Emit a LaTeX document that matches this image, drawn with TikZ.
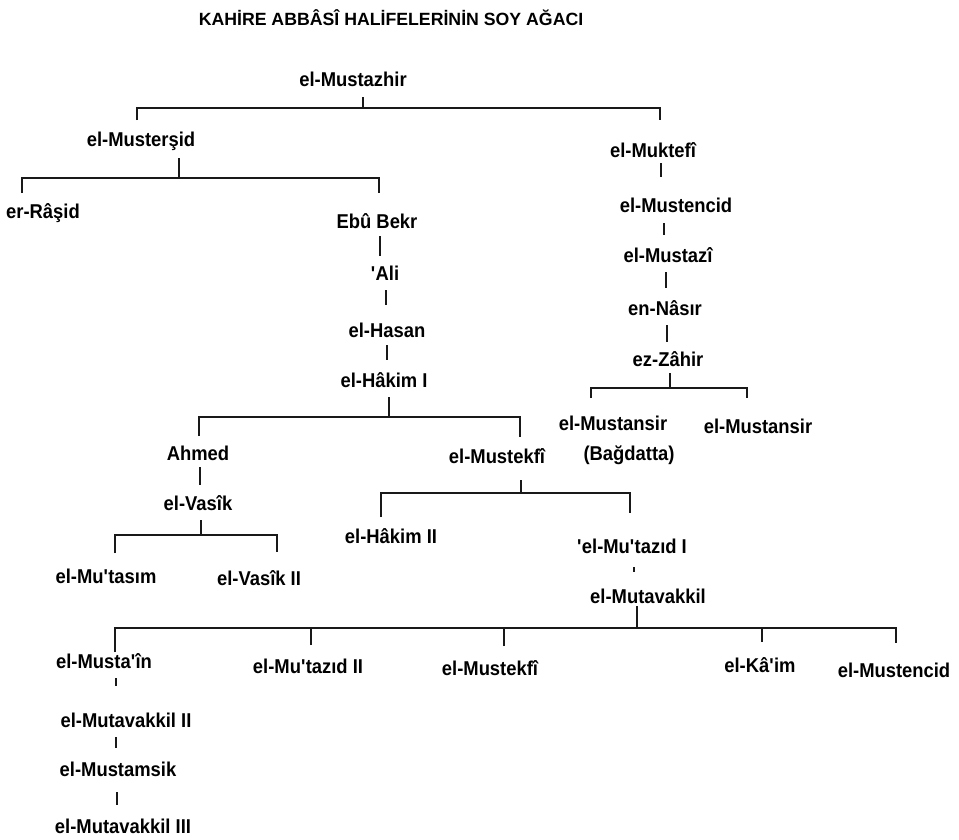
\documentclass[tikz,border=0pt]{standalone}
\usepackage{fontspec}
\setmainfont{Liberation Sans}
\newfontfamily\treefont[FakeStretch=0.92]{Liberation Sans}
\newcommand{\aps}{\textquotesingle}

\begin{document}
\begin{tikzpicture}[x=1pt,y=-1pt,
  caliph/.style={anchor=base,inner sep=2pt,text height=13.5pt,text depth=4pt,font=\treefont\fontsize{20}{24}\selectfont\bfseries},
  tie/.style={line width=1.1pt,black!90},
  link/.style={tie,shorten <=4pt,shorten >=11.5pt}]

\useasboundingbox (0,0) rectangle (959,839);

\node[anchor=base,font=\fontsize{17.7}{20}\selectfont\bfseries] (title) at (391,25) {KAHİRE ABBÂSÎ HALİFELERİNİN SOY AĞACI};

% left branch
\node[caliph] (mustazhir)   at (353,86)  {el-Mustazhir};
\node[caliph] (musterside)  at (141,146) {el-Musterşid};
\node[caliph] (rasid)       at (43,218)  {er-Râşid};
\node[caliph] (ebubekr)     at (377,228) {Ebû Bekr};
\node[caliph] (ali)         at (385,280) {\aps Ali};
\node[caliph] (hasan)       at (387,337) {el-Hasan};
\node[caliph] (hakimA)      at (384,387) {el-Hâkim I};
\node[caliph] (ahmed)       at (198,460) {Ahmed};
\node[caliph] (vasikA)      at (198,510) {el-Vasîk};
\node[caliph] (mutasim)     at (106,583) {el-Mu\aps tasım};
\node[caliph] (vasikB)      at (259,585) {el-Vasîk II};
\node[caliph] (mustekfiA)   at (497,463) {el-Mustekfî};
\node[caliph] (hakimB)      at (391,543) {el-Hâkim II};
\node[caliph] (mutazidA)    at (632,553) {\aps el-Mu\aps tazıd I};
\node[caliph] (mutavakkilA) at (648,603) {el-Mutavakkil};
\node[caliph] (mustain)     at (104,668) {el-Musta\aps în};
\node[caliph] (mutazidB)    at (308,673) {el-Mu\aps tazıd II};
\node[caliph] (mustekfiB)   at (490,675) {el-Mustekfî};
\node[caliph] (kaim)        at (760,672) {el-Kâ\aps im};
\node[caliph] (mustencidB)  at (894,677) {el-Mustencid};
\node[caliph] (mutavakkilB) at (126,727) {el-Mutavakkil II};
\node[caliph] (mustamsik)   at (118,776) {el-Mustamsik};
\node[caliph] (mutavakkilC) at (123,833) {el-Mutavakkil III};

% right branch
\node[caliph] (muktefi)     at (653,157) {el-Muktefî};
\node[caliph] (mustencidA)  at (676,212) {el-Mustencid};
\node[caliph] (mustazi)     at (668,262) {el-Mustazî};
\node[caliph] (nasir)       at (665,315) {en-Nâsır};
\node[caliph] (zahir)       at (668,366) {ez-Zâhir};
\node[caliph] (mustansirA)  at (613,430) {el-Mustansir};
\node[caliph] (bagdatta)    at (629,460) {(Bağdatta)};
\node[caliph] (mustansirB)  at (758,433) {el-Mustansir};

% brackets
\coordinate (j1) at (363,108); \coordinate (d1a) at (137,120); \coordinate (d1b) at (660,120);
\draw[tie,shorten <=5pt] (mustazhir.south -| j1) -- (j1);
\draw[tie] (d1a) |- (j1) -| (d1b);

\coordinate (j2) at (179,178); \coordinate (d2a) at (22,193); \coordinate (d2b) at (379,193);
\draw[tie,shorten <=6pt] (musterside.south -| j2) -- (j2);
\draw[tie] (d2a) |- (j2) -| (d2b);

\coordinate (j3) at (389,417); \coordinate (d3a) at (199,436); \coordinate (d3b) at (520,437);
\draw[tie,shorten <=4pt] (hakimA.south -| j3) -- (j3);
\draw[tie] (d3a) |- (j3) -| (d3b);

\coordinate (j4) at (201,535); \coordinate (d4a) at (115,553); \coordinate (d4b) at (277,552);
\draw[tie,shorten <=4pt] (vasikA.south -| j4) -- (j4);
\draw[tie] (d4a) |- (j4) -| (d4b);

\coordinate (j5) at (521,493); \coordinate (d5a) at (381,517); \coordinate (d5b) at (630,513);
\draw[tie,shorten <=11pt] (mustekfiA.south -| j5) -- (j5);
\draw[tie] (d5a) |- (j5) -| (d5b);

\coordinate (j6) at (637,628); \coordinate (d6a) at (115,652); \coordinate (d6b) at (311,645);
\coordinate (d6c) at (504,646); \coordinate (d6d) at (762,642); \coordinate (d6e) at (896,643);
\draw[tie,shorten <=-3pt] (mutavakkilA.south -| j6) -- (j6);
\draw[tie] (d6a) |- (j6) -| (d6e);
\draw[tie] (d6b) -- (d6b |- j6);
\draw[tie] (d6c) -- (d6c |- j6);
\draw[tie] (d6d) -- (d6d |- j6);

\coordinate (j7) at (670,388); \coordinate (d7a) at (591,398); \coordinate (d7b) at (747,398);
\draw[tie,shorten <=1pt] (zahir.south -| j7) -- (j7);
\draw[tie] (d7a) |- (j7) -| (d7b);

% single lines
\draw[link,shorten <=2pt,shorten >=8.5pt] ([xshift=3]ebubekr.south) -- ([xshift=3]ebubekr.south |- ali.north);
\draw[link,shorten >=16.5pt] ([xshift=1]ali.south) -- ([xshift=1]ali.south |- hasan.north);
\draw[link,shorten <=2pt] (hasan.south) -- (hasan.south |- hakimA.north);
\draw[link,shorten <=0pt,shorten >=19.5pt] ([xshift=8]muktefi.south) -- ([xshift=8]muktefi.south |- mustencidA.north);
\draw[link,shorten <=5pt] ([xshift=-12]mustencidA.south) -- ([xshift=-12]mustencidA.south |- mustazi.north);
\draw[link] ([xshift=-2]mustazi.south) -- ([xshift=-2]mustazi.south |- nasir.north);
\draw[link,shorten >=8.5pt] ([xshift=2]nasir.south) -- ([xshift=2]nasir.south |- zahir.north);
\draw[link,shorten <=1pt,shorten >=9.5pt] ([xshift=2]ahmed.south) -- ([xshift=2]ahmed.south |- vasikA.north);
\draw[link,shorten <=8pt,shorten >=15.5pt] ([xshift=2]mutazidA.south) -- ([xshift=2]mutazidA.south |- mutavakkilA.north);
\draw[link,shorten >=25.5pt] ([xshift=12]mustain.south) -- ([xshift=12]mustain.south |- mutavakkilB.north);
\draw[link,shorten >=12.5pt] ([xshift=-10]mutavakkilB.south) -- ([xshift=-10]mutavakkilB.south |- mustamsik.north);
\draw[link,shorten <=10pt,shorten >=12.5pt] ([xshift=-1]mustamsik.south) -- ([xshift=-1]mustamsik.south |- mutavakkilC.north);

\end{tikzpicture}
\end{document}
